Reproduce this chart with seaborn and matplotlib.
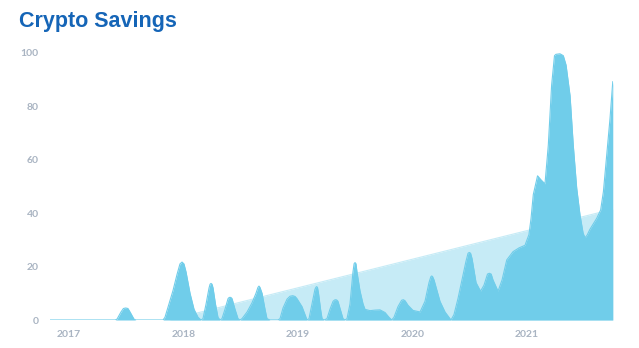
import matplotlib
matplotlib.use("Agg")
import matplotlib.pyplot as plt
import seaborn as sns
import numpy as np
import pandas as pd

# ---- data (decimal years, savings value) ----
years = [2016.834, 2017.402, 2017.419, 2017.454, 2017.475, 2017.495, 2017.515, 2017.533, 2017.568, 2017.585,
         2017.821, 2017.838, 2017.873, 2017.908, 2017.943, 2017.969, 2017.987, 2018.004, 2018.022, 2018.057,
         2018.092, 2018.127, 2018.153, 2018.170, 2018.197, 2018.223, 2018.232, 2018.240, 2018.249, 2018.258,
         2018.279, 2018.301, 2018.319, 2018.336, 2018.362, 2018.389, 2018.398, 2018.406, 2018.415, 2018.424,
         2018.450, 2018.476, 2018.493, 2018.511, 2018.555, 2018.598, 2018.633, 2018.650, 2018.659, 2018.668,
         2018.686, 2018.712, 2018.729, 2018.755, 2018.825, 2018.843, 2018.869, 2018.904, 2018.930,
         2018.954, 2018.975, 2018.991, 2019.035, 2019.061, 2019.079, 2019.096, 2019.122, 2019.148,
         2019.157, 2019.163, 2019.170, 2019.179, 2019.197, 2019.210, 2019.227, 2019.253, 2019.279, 2019.306,
         2019.320, 2019.329, 2019.338, 2019.349, 2019.376, 2019.393, 2019.410, 2019.428, 2019.454, 2019.480,
         2019.490, 2019.498, 2019.506, 2019.515, 2019.541, 2019.568, 2019.585, 2019.629, 2019.672, 2019.716,
         2019.760, 2019.795, 2019.818, 2019.838, 2019.873, 2019.905, 2019.920, 2019.935, 2019.961, 2020.004,
         2020.066, 2020.109, 2020.144, 2020.160, 2020.168, 2020.176, 2020.188, 2020.214, 2020.240, 2020.284,
         2020.328, 2020.336, 2020.362, 2020.397, 2020.432, 2020.467, 2020.485, 2020.496, 2020.507, 2020.520,
         2020.555, 2020.594, 2020.624, 2020.655, 2020.671, 2020.687, 2020.703, 2020.747, 2020.782, 2020.823,
         2020.878, 2020.930, 2020.983, 2020.991, 2021.017, 2021.035, 2021.055, 2021.092,
         2021.122, 2021.157, 2021.186, 2021.215, 2021.240, 2021.253, 2021.288, 2021.317, 2021.341,
         2021.376, 2021.404, 2021.434, 2021.463, 2021.490, 2021.507, 2021.525, 2021.550, 2021.609, 2021.643,
         2021.667, 2021.696, 2021.725, 2021.749]
values = [0, 0, 0.3, 3, 4.3, 4.5, 4.3, 3, 0.3, 0,
          0, 1, 6, 11, 17, 21.0, 21.7, 21.0, 18, 10,
          4, 1, 0, 0.5, 6, 12, 13.4, 13.7, 13.4, 12,
          6, 1, 0, 0.5, 4, 8, 8.4, 8.5, 8.4, 8,
          4, 0.5, 0, 0.5, 3, 6.4, 10, 12.2, 12.7, 12.2,
          10, 4, 0.5, 0, 0, 0.5, 4.5, 7.8, 8.9,
          9.1, 8.8, 8, 5, 2, 0, 0.5, 6, 11.5,
          12.3, 12.5, 12.2, 10, 4, 0.5, 0, 0.5, 4, 7,
          7.5, 7.6, 7.5, 7, 3, 0.5, 0, 0.5, 6, 18,
          21.1, 21.5, 21.1, 18, 11, 6, 4, 3.5, 3.7, 3.8,
          2.8, 1, 0, 1, 5, 7.4, 7.6, 7.2, 5.5, 3.6,
          3, 7, 14, 16.2, 16.5, 16.2, 15, 11, 7, 3,
          0.5, 0, 2, 8, 15, 22, 25.0, 25.3, 25.0, 23,
          14, 10.8, 13, 17.2, 17.5, 17.2, 15, 10.8, 15, 22.5,
          25.6, 27, 28, 29, 32, 38, 47, 54,
          52.5, 51, 65.5, 88, 99.0, 99.5, 99.7, 99, 95.5,
          84, 65.5, 49.4, 39.3, 32.5, 30.8, 31.8, 34, 38.1, 41.2,
          48, 61.8, 75.5, 89.3]

trend_years = [2017.873, 2021.749]
trend_values = [0, 41.5]

tick_years = [2017, 2018, 2019, 2020, 2021]
tick_labels = ["2017", "2018", "2019", "2020", "2021"]
y_ticks = [0, 20, 40, 60, 80, 100]

df = pd.DataFrame({"year": years, "value": values})
tdf = pd.DataFrame({"year": trend_years, "value": trend_values})

sns.set_theme(style="white")
plt.rcParams['font.family'] = ['Lato', 'DejaVu Sans']

DARK = "#70cdea"
LIGHT = "#c6ebf6"
TICK = "#a9b4c2"

fig = plt.figure(figsize=(6.39, 3.48), dpi=100)
ax = fig.add_axes([50/639, 28/348, 563/639, 267/348])

# trend area (behind)
sns.lineplot(data=tdf, x="year", y="value", ax=ax, color=LIGHT, linewidth=0.8, zorder=0.5)
ax.fill_between(tdf["year"], 0, tdf["value"], color=LIGHT, linewidth=0, zorder=0.6)

# main area (front)
sns.lineplot(data=df, x="year", y="value", ax=ax, color=DARK, linewidth=0.8, zorder=2)
ax.fill_between(df["year"], 0, df["value"], color=DARK, linewidth=0, zorder=1.5)

ax.axhline(0, color="#e3e8ee", linewidth=0.8, zorder=0.1)

ax.set_xlim(2016.834, 2021.751)
ax.set_ylim(0, 100)
ax.set_xticks(tick_years)
ax.set_xticklabels(tick_labels)
ax.set_yticks(y_ticks)
ax.set_xlabel("")
ax.set_ylabel("")
for s in ax.spines.values():
    s.set_visible(False)
ax.tick_params(axis="both", length=0, colors=TICK, labelsize=7.5)
ax.tick_params(axis="x", pad=7)
ax.tick_params(axis="y", pad=8)
for lbl in ax.get_xticklabels() + ax.get_yticklabels():
    lbl.set_fontweight("bold")
    lbl.set_color(TICK)

fig.text(19/639, 1 - 22/348, "Crypto Savings", ha="left", va="center",
         fontsize=15.5, fontweight="bold", color="#1565b7",
         family=["Liberation Sans", "DejaVu Sans"])

fig.savefig("out.png", dpi=100)
